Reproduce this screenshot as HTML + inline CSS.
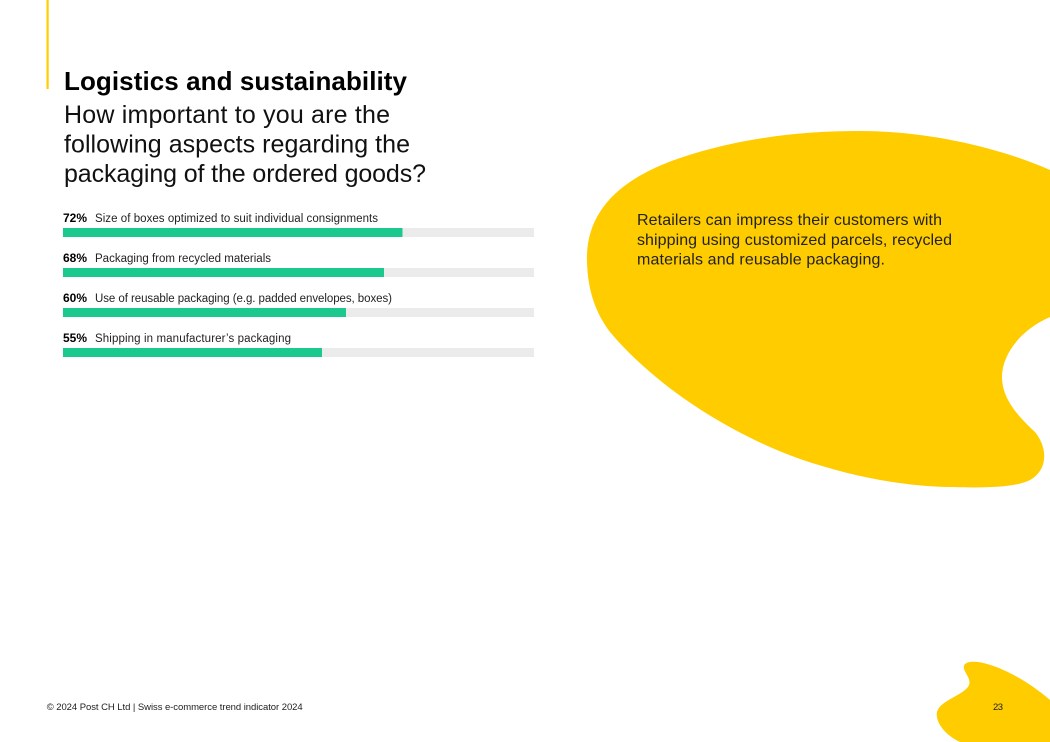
<!DOCTYPE html>
<html>
<head>
<meta charset="utf-8">
<style>
  html, body { margin:0; padding:0; background:#ffffff; }
  body { width:1050px; height:742px; overflow:hidden; position:relative; }
  svg { display:block; }
  text { font-family: "Liberation Sans", sans-serif; }
</style>
</head>
<body>
<svg width="1050" height="742" viewBox="0 0 1050 742" xmlns="http://www.w3.org/2000/svg">
  <rect x="0" y="0" width="1050" height="742" fill="#ffffff"/>

  <!-- vertical accent line -->
  <rect x="46.5" y="0" width="2.2" height="89" fill="#FFCC00"/>

  <!-- big yellow blob -->
  <path d="M 587 263
           C 585 215, 615 180, 680 158
           C 740 138, 800 131, 860 131
           C 930 131, 1000 148, 1050 170
           L 1050 317
           C 1020 330, 1002 355, 1002 377
           C 1002 400, 1020 418, 1035 432
           C 1048 448, 1048 470, 1030 480
           C 1015 488, 980 488, 950 487
           C 900 486, 850 476, 800 459
           C 720 430, 650 380, 610 332
           C 595 312, 588 290, 587 263 Z" fill="#FFCC00"/>

  <!-- small yellow blob bottom right -->
  <path d="M 960 742
           C 945 735, 935 722, 937 712
           C 940 700, 965 695, 969 685
           C 972 677, 960 670, 965 664
           C 975 656, 1015 670, 1050 700
           L 1050 742 Z" fill="#FFCC00"/>

  <!-- Title -->
  <text x="64" y="90" font-size="26" font-weight="bold" fill="#000" textLength="343" lengthAdjust="spacing">Logistics and sustainability</text>
  <text x="64" y="123" font-size="25" fill="#111" textLength="326" lengthAdjust="spacing">How important to you are the</text>
  <text x="64" y="152.5" font-size="25" fill="#111" textLength="346" lengthAdjust="spacing">following aspects regarding the</text>
  <text x="64" y="182" font-size="25" fill="#111" textLength="362" lengthAdjust="spacing">packaging of the ordered goods?</text>

  <!-- Bars -->
  <g>
    <text x="63" y="222" font-size="11.5" font-weight="bold" fill="#000" textLength="24" lengthAdjust="spacingAndGlyphs">72%</text>
    <text x="95" y="222" font-size="11.5" fill="#222" textLength="283" lengthAdjust="spacing">Size of boxes optimized to suit individual consignments</text>
    <rect x="63" y="228" width="471" height="9" fill="#EBEBEB"/>
    <rect x="63" y="228" width="339.5" height="9" fill="#1BC98E"/>

    <text x="63" y="262" font-size="11.5" font-weight="bold" fill="#000" textLength="24" lengthAdjust="spacingAndGlyphs">68%</text>
    <text x="95" y="262" font-size="11.5" fill="#222" textLength="176" lengthAdjust="spacing">Packaging from recycled materials</text>
    <rect x="63" y="268" width="471" height="9" fill="#EBEBEB"/>
    <rect x="63" y="268" width="321" height="9" fill="#1BC98E"/>

    <text x="63" y="302" font-size="11.5" font-weight="bold" fill="#000" textLength="24" lengthAdjust="spacingAndGlyphs">60%</text>
    <text x="95" y="302" font-size="11.5" fill="#222" textLength="297" lengthAdjust="spacing">Use of reusable packaging (e.g. padded envelopes, boxes)</text>
    <rect x="63" y="308" width="471" height="9" fill="#EBEBEB"/>
    <rect x="63" y="308" width="283" height="9" fill="#1BC98E"/>

    <text x="63" y="342" font-size="11.5" font-weight="bold" fill="#000" textLength="24" lengthAdjust="spacingAndGlyphs">55%</text>
    <text x="95" y="342" font-size="11.5" fill="#222" textLength="196" lengthAdjust="spacing">Shipping in manufacturer’s packaging</text>
    <rect x="63" y="348" width="471" height="9" fill="#EBEBEB"/>
    <rect x="63" y="348" width="259" height="9" fill="#1BC98E"/>
  </g>

  <!-- Callout text -->
  <text x="637" y="225" font-size="16" fill="#222" textLength="305" lengthAdjust="spacing">Retailers can impress their customers with</text>
  <text x="637" y="245" font-size="16" fill="#222" textLength="315" lengthAdjust="spacing">shipping using customized parcels, recycled</text>
  <text x="637" y="264.5" font-size="16" fill="#222" textLength="248" lengthAdjust="spacing">materials and reusable packaging.</text>

  <!-- Footer -->
  <text x="46.7" y="710" font-size="9.5" fill="#222" textLength="256" lengthAdjust="spacing">© 2024 Post CH Ltd | Swiss e-commerce trend indicator 2024</text>
  <text x="993" y="710" font-size="9.5" fill="#222" textLength="10" lengthAdjust="spacing">23</text>
</svg>
</body>
</html>
